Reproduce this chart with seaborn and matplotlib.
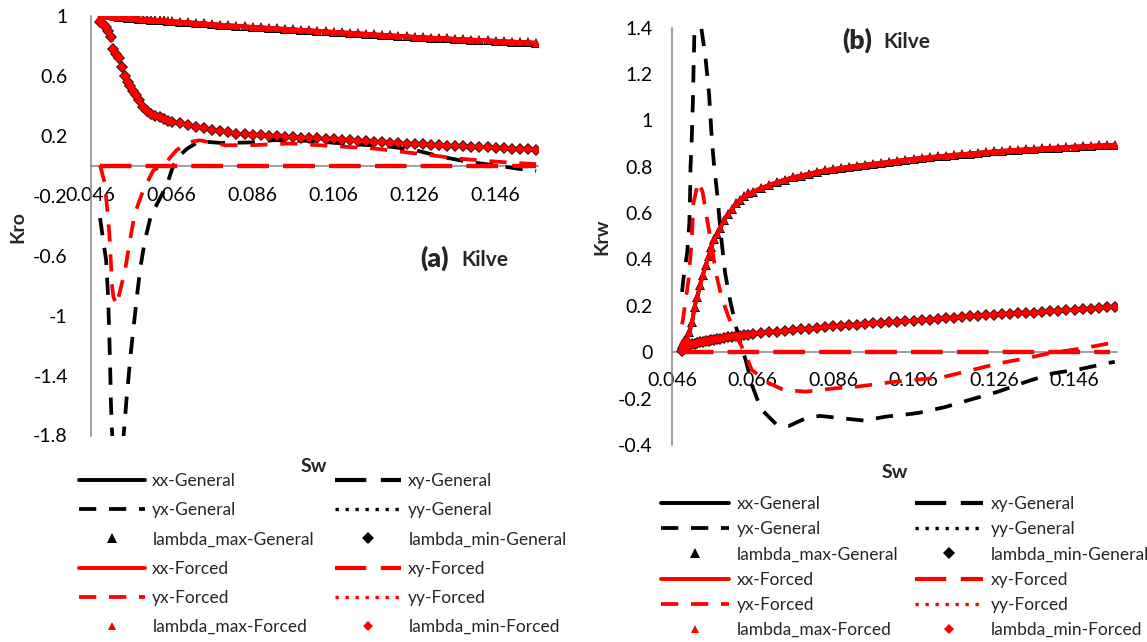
import matplotlib
matplotlib.use("Agg")
import matplotlib.pyplot as plt
import seaborn as sns

# ---- data: (a) Kro and (b) Krw against Sw ----
sw_grid = [0.0484, 0.0490, 0.0497, 0.0503, 0.0510, 0.0516, 0.0523, 0.0530,
           0.0537, 0.0544, 0.0551, 0.0558, 0.0565, 0.0572, 0.0580, 0.0590,
           0.0600, 0.0610, 0.0620, 0.0630, 0.0640, 0.0650, 0.0660,
           0.068, 0.070, 0.072, 0.074, 0.076, 0.078, 0.080, 0.082, 0.084, 0.086,
           0.088, 0.090, 0.092, 0.094, 0.096, 0.098, 0.100, 0.102, 0.104, 0.106,
           0.108, 0.110, 0.112, 0.114, 0.116, 0.118, 0.120, 0.122, 0.124, 0.126,
           0.128, 0.130, 0.132, 0.134, 0.136, 0.138, 0.140, 0.142, 0.144, 0.146,
           0.148, 0.150, 0.152, 0.154, 0.156]

kro_lmax = [1.000, 0.999, 0.997, 0.996, 0.995, 0.994, 0.992, 0.991,
            0.989, 0.988, 0.986, 0.985, 0.983, 0.982, 0.980, 0.978,
            0.976, 0.974, 0.972, 0.970, 0.968, 0.966, 0.964,
            0.960, 0.956, 0.952, 0.948, 0.944, 0.940, 0.936, 0.932, 0.928, 0.925,
            0.922, 0.918, 0.915, 0.912, 0.908, 0.905, 0.902, 0.898, 0.895, 0.892,
            0.889, 0.885, 0.882, 0.879, 0.875, 0.872, 0.869, 0.865, 0.862, 0.859,
            0.856, 0.853, 0.851, 0.848, 0.845, 0.843, 0.840, 0.837, 0.835, 0.832,
            0.829, 0.827, 0.824, 0.822, 0.819]
kro_lmin = [0.955, 0.945, 0.925, 0.900, 0.860, 0.780, 0.745, 0.715,
            0.655, 0.595, 0.560, 0.530, 0.500, 0.470, 0.435, 0.390,
            0.362, 0.345, 0.333, 0.322, 0.311, 0.300, 0.292,
            0.281, 0.270, 0.259, 0.249, 0.239, 0.229, 0.221, 0.214, 0.209, 0.204,
            0.201, 0.198, 0.195, 0.193, 0.190, 0.187, 0.184, 0.181, 0.178, 0.175,
            0.172, 0.169, 0.165, 0.162, 0.159, 0.156, 0.153, 0.150, 0.147, 0.144,
            0.141, 0.139, 0.136, 0.134, 0.131, 0.128, 0.126, 0.123, 0.121, 0.118,
            0.116, 0.113, 0.110, 0.108, 0.105]
kro_gen_start = 0.053  # General xx / lambda_max curve in (a) begins here

krw_lmax = [0.035, 0.048, 0.056, 0.085, 0.130, 0.195, 0.240, 0.290,
            0.335, 0.375, 0.415, 0.455, 0.488, 0.510, 0.535, 0.572,
            0.595, 0.618, 0.645, 0.658, 0.672, 0.685, 0.692,
            0.707, 0.720, 0.733, 0.744, 0.754, 0.762, 0.770, 0.778, 0.785, 0.790,
            0.795, 0.800, 0.805, 0.809, 0.813, 0.817, 0.821, 0.826, 0.830, 0.834,
            0.838, 0.841, 0.845, 0.848, 0.851, 0.854, 0.857, 0.860, 0.863, 0.866,
            0.868, 0.871, 0.873, 0.875, 0.877, 0.879, 0.881, 0.883, 0.885, 0.887,
            0.888, 0.890, 0.892, 0.893, 0.895]
krw_lmin = [0.005, 0.015, 0.024, 0.029, 0.034, 0.037, 0.040, 0.043,
            0.046, 0.048, 0.050, 0.052, 0.054, 0.056, 0.058, 0.061,
            0.064, 0.066, 0.068, 0.070, 0.073, 0.075, 0.077,
            0.082, 0.085, 0.089, 0.092, 0.096, 0.099, 0.102, 0.105, 0.108, 0.111,
            0.114, 0.116, 0.119, 0.122, 0.124, 0.127, 0.129, 0.131, 0.133, 0.135,
            0.138, 0.141, 0.144, 0.146, 0.149, 0.152, 0.154, 0.156, 0.159, 0.161,
            0.163, 0.165, 0.167, 0.169, 0.171, 0.174, 0.176, 0.178, 0.180, 0.182,
            0.185, 0.188, 0.191, 0.194, 0.197]

kro_yx_gen_sw = [0.0483, 0.0498, 0.0503, 0.0506, 0.0508, 0.0510, 0.0512, 0.0526,
                 0.0541, 0.0549, 0.0559, 0.0567, 0.0575, 0.0583, 0.0594, 0.0608,
                 0.0623, 0.0648, 0.0660, 0.0672, 0.0698, 0.0728, 0.0784, 0.0860,
                 0.0911, 0.1000, 0.1100, 0.1200, 0.1261, 0.1327, 0.1392, 0.1466,
                 0.1540, 0.1560]
kro_yx_gen = [-0.35, -0.63, -0.875, -1.14, -1.34, -1.585, -1.74, -2.40,
              -1.81, -1.54, -1.25, -1.05, -0.85, -0.675, -0.497, -0.341,
              -0.26, -0.13, -0.03, 0.048, 0.113, 0.162, 0.151, 0.155,
              0.17, 0.165, 0.145, 0.127, 0.103, 0.059, 0.025, -0.001,
              -0.03, -0.035]
kro_yx_frc_sw = [0.0483, 0.0495, 0.0501, 0.0506, 0.0510, 0.0513, 0.0516, 0.0524,
                 0.0545, 0.0557, 0.0569, 0.0590, 0.0615, 0.0640, 0.0672, 0.0702,
                 0.0729, 0.0793, 0.0866, 0.0952, 0.1018, 0.1086, 0.1156, 0.1230,
                 0.1298, 0.1364, 0.1434, 0.1503, 0.1560]
kro_yx_frc = [0.003, -0.119, -0.297, -0.452, -0.652, -0.808, -0.875, -0.93,
              -0.697, -0.497, -0.319, -0.163, -0.03, 0.003, 0.103, 0.156,
              0.169, 0.136, 0.137, 0.148, 0.137, 0.126, 0.115, 0.092,
              0.07, 0.048, 0.032, 0.019, 0.01]
kro_xy_sw = [0.0484, 0.1560]
kro_xy = [0.0, 0.0]

krw_yx_gen_sw = [0.0485, 0.0488, 0.0498, 0.0503, 0.0505, 0.0506, 0.0509, 0.0512,
                 0.0514, 0.0516, 0.0524, 0.0533, 0.0543, 0.0552, 0.0559, 0.0564,
                 0.0573, 0.0581, 0.0592, 0.0604, 0.0619, 0.0633, 0.0644, 0.0660,
                 0.0681, 0.0720, 0.0751, 0.0792, 0.0828, 0.0882, 0.0937, 0.0991,
                 0.1045, 0.1072, 0.1138, 0.1205, 0.1271, 0.1341, 0.1407, 0.1474,
                 0.1548, 0.1560]
krw_yx_gen = [0.26, 0.312, 0.434, 0.556, 0.685, 0.80, 0.917, 1.088,
              1.26, 1.40, 1.75, 1.397, 1.274, 1.116, 0.917, 0.815,
              0.671, 0.513, 0.341, 0.226, 0.110, 0.024, -0.04, -0.148,
              -0.245, -0.313, -0.318, -0.285, -0.275, -0.285, -0.295, -0.278,
              -0.268, -0.262, -0.237, -0.203, -0.17, -0.127, -0.091, -0.073,
              -0.045, -0.042]
krw_yx_frc_sw = [0.0485, 0.0487, 0.0501, 0.0509, 0.0513, 0.0525, 0.0536, 0.0546,
                 0.0559, 0.0569, 0.0583, 0.0600, 0.0621, 0.0641, 0.0658, 0.0701,
                 0.0738, 0.0792, 0.0864, 0.0923, 0.0997, 0.1064, 0.1130, 0.1196,
                 0.1275, 0.1341, 0.1399, 0.1482, 0.1540, 0.1560]
krw_yx_frc = [0.12, 0.139, 0.312, 0.484, 0.642, 0.735, 0.692, 0.585,
              0.455, 0.341, 0.240, 0.154, 0.067, -0.004, -0.076, -0.134,
              -0.163, -0.170, -0.156, -0.148, -0.131, -0.119, -0.109, -0.081,
              -0.047, -0.026, -0.004, 0.017, 0.036, 0.04]
krw_xy_sw = [0.0484, 0.1548]
krw_xy = [0.0, 0.0]

x_ticks = [0.046, 0.066, 0.086, 0.106, 0.126, 0.146]
x_tick_labels = ["0.046", "0.066", "0.086", "0.106", "0.126", "0.146"]
kro_ticks = [1, 0.6, 0.2, -0.2, -0.6, -1, -1.4, -1.8]
kro_tick_labels = ["1", "0.6", "0.2", "-0.2", "-0.6", "-1", "-1.4", "-1.8"]
krw_ticks = [-0.4, -0.2, 0, 0.2, 0.4, 0.6, 0.8, 1, 1.2, 1.4]
krw_tick_labels = ["-0.4", "-0.2", "0", "0.2", "0.4", "0.6", "0.8", "1",
                   "1.2", "1.4"]

# ---- styling ----
W, H = 1147, 642
GRAY = "#868686"
LINE_STYLES = {
    "xx": dict(linestyle="-", linewidth=2.8),
    "xy": dict(linestyle=(0, (7.5, 3.5)), linewidth=3.0),
    "yx": dict(linestyle=(0, (4.6, 3.4)), linewidth=2.7),
    "yy": dict(linestyle=(0, (1, 2)), linewidth=2.4),
}
MARKERS = {"lambda_max": "^", "lambda_min": "D"}
MARKER_SIZE = {("lambda_max", "General"): 7.0, ("lambda_min", "General"): 6.0,
               ("lambda_max", "Forced"): 5.4, ("lambda_min", "Forced"): 4.6}
COLORS = {"General": "black", "Forced": "red"}
ORDER_COL1 = ["xx-General", "yx-General", "lambda_max-General",
              "xx-Forced", "yx-Forced", "lambda_max-Forced"]
ORDER_COL2 = ["xy-General", "yy-General", "lambda_min-General",
              "xy-Forced", "yy-Forced", "lambda_min-Forced"]

sns.set_style("white")
plt.rcParams["font.family"] = ["Lato", "DejaVu Sans"]


def draw_series(ax, kind, case, x, y):
    color = COLORS[case]
    label = f"{kind}-{case}"
    common = dict(x=x, y=y, ax=ax, color=color, label=label, legend=False,
                  estimator=None, sort=False, errorbar=None, zorder=3)
    if kind in LINE_STYLES:
        sns.lineplot(**common, **LINE_STYLES[kind])
    else:
        sns.lineplot(**common, linestyle="none", marker=MARKERS[kind],
                     markersize=MARKER_SIZE[(kind, case)],
                     markeredgewidth=0, markerfacecolor=color)


def draw_panel(ax, curves):
    # Excel draws the series in this order, later ones on top
    for case in ["General", "Forced"]:
        for kind in ["xx", "xy", "yx", "yy", "lambda_max", "lambda_min"]:
            x, y = curves[(kind, case)]
            draw_series(ax, kind, case, x, y)


def style_axes(ax, yticks, ylabels, ylim, ypad, xpad):
    ax.set_xlim(0.046, 0.1565)
    ax.set_ylim(*ylim)
    ax.set_xticks(x_ticks)
    ax.set_xticklabels(x_tick_labels)
    ax.set_yticks(yticks)
    ax.set_yticklabels(ylabels)
    for side in ["top", "right"]:
        ax.spines[side].set_visible(False)
    ax.spines["bottom"].set_position(("data", 0))
    for side in ["left", "bottom"]:
        ax.spines[side].set_color(GRAY)
        ax.spines[side].set_linewidth(1.1)
    ax.tick_params(axis="both", direction="out", length=3.5, width=1.0,
                   color=GRAY, labelsize=14, labelcolor="black")
    ax.tick_params(axis="x", pad=xpad)
    ax.tick_params(axis="y", pad=ypad)
    ax.grid(False)


def add_legend(fig, handles, x, y, spacing, hlen):
    for col, dx in zip([ORDER_COL1, ORDER_COL2], x):
        fig.legend([handles[name] for name in col], col, loc="upper left",
                   bbox_to_anchor=(dx / W, 1 - y / H), frameon=False,
                   borderpad=0, borderaxespad=0, handlelength=hlen,
                   handletextpad=0.42, labelspacing=spacing, numpoints=1,
                   fontsize=12.5)


fig = plt.figure(figsize=(W / 100, H / 100), dpi=100)
ax_a = fig.add_axes([90.7 / W, 1 - 435.5 / H, 447.5 / W, 419.8 / H])
ax_b = fig.add_axes([672 / W, 1 - 444.9 / H, 444.8 / W, 417.2 / H])

gen_idx = next(i for i, s in enumerate(sw_grid) if s >= kro_gen_start)
curves_a = {}
for case in ["General", "Forced"]:
    start = gen_idx if case == "General" else 0
    curves_a[("xx", case)] = (sw_grid[start:], kro_lmax[start:])
    curves_a[("lambda_max", case)] = (sw_grid[start:], kro_lmax[start:])
    curves_a[("yy", case)] = (sw_grid, kro_lmin)
    curves_a[("lambda_min", case)] = (sw_grid, kro_lmin)
    curves_a[("xy", case)] = (kro_xy_sw, kro_xy)
curves_a[("yx", "General")] = (kro_yx_gen_sw, kro_yx_gen)
curves_a[("yx", "Forced")] = (kro_yx_frc_sw, kro_yx_frc)

curves_b = {}
for case in ["General", "Forced"]:
    curves_b[("xx", case)] = (sw_grid, krw_lmax)
    curves_b[("lambda_max", case)] = (sw_grid, krw_lmax)
    curves_b[("yy", case)] = (sw_grid, krw_lmin)
    curves_b[("lambda_min", case)] = (sw_grid, krw_lmin)
    curves_b[("xy", case)] = (krw_xy_sw, krw_xy)
curves_b[("yx", "General")] = (krw_yx_gen_sw, krw_yx_gen)
curves_b[("yx", "Forced")] = (krw_yx_frc_sw, krw_yx_frc)

draw_panel(ax_a, curves_a)
draw_panel(ax_b, curves_b)
style_axes(ax_a, kro_ticks, kro_tick_labels, (-1.8, 1.0), 13, 12)
style_axes(ax_b, krw_ticks, krw_tick_labels, (-0.4, 1.4), 10.5, 11)

# axis titles and panel tags
fig.text(18 / W, 1 - 227 / H, "Kro", rotation=90, ha="center", va="center",
         fontsize=14, fontweight="bold")
fig.text(314 / W, 1 - 466 / H, "Sw", ha="center", va="center",
         fontsize=14, fontweight="bold")
fig.text(602 / W, 1 - 237 / H, "Krw", rotation=90, ha="center", va="center",
         fontsize=14, fontweight="bold")
fig.text(895 / W, 1 - 473 / H, "Sw", ha="center", va="center",
         fontsize=14, fontweight="bold")
for tag, x_tag, x_name, base in [("(a)", 420, 461, 266.5), ("(b)", 842, 883, 48.3)]:
    fig.text(x_tag / W, 1 - base / H, tag, ha="left", va="baseline",
             fontsize=19, fontweight="heavy")
    fig.text(x_name / W, 1 - base / H, "Kilve", ha="left", va="baseline",
             fontsize=15, fontweight="bold")

h_a, l_a = ax_a.get_legend_handles_labels()
h_b, l_b = ax_b.get_legend_handles_labels()
add_legend(fig, dict(zip(l_a, h_a)), (79, 335), 473, 0.76, 3.8)
add_legend(fig, dict(zip(l_b, h_b)), (661, 915), 496, 0.53, 3.92)

plt.savefig("out.png", dpi=100)
plt.close()
